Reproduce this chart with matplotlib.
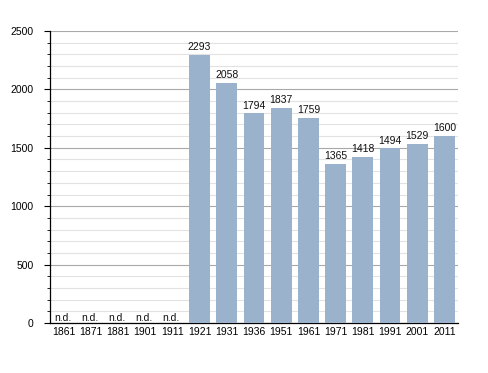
import matplotlib
matplotlib.use("Agg")
import matplotlib.pyplot as plt
from matplotlib.ticker import MultipleLocator

years = ["1861", "1871", "1881", "1901", "1911", "1921", "1931", "1936",
         "1951", "1961", "1971", "1981", "1991", "2001", "2011"]
population = [None, None, None, None, None, 2293, 2058, 1794,
              1837, 1759, 1365, 1418, 1494, 1529, 1600]
yticks = [0, 500, 1000, 1500, 2000, 2500]

plt.rcParams['font.family'] = ['Liberation Sans', 'DejaVu Sans']
fig = plt.figure(figsize=(4.88, 3.73), dpi=100)
ax = fig.add_axes([0.1025, 0.134, 0.836, 0.783])

x = list(range(len(years)))
vals = [v if v is not None else 0 for v in population]
bar_color = '#9bb2cc'
ax.bar(x, vals, width=0.77, color=bar_color, zorder=3)

for i, v in enumerate(population):
    if v is None:
        ax.text(i - 0.36, 0, "n.d.", ha='left', va='bottom', fontsize=7.5,
                color='#111111', zorder=4)
    else:
        ax.text(i, v + 25, str(v), ha='center', va='bottom', fontsize=7.5,
                color='#111111', zorder=4)

ax.set_xlim(-0.5, len(years) - 0.5)
ax.set_ylim(0, 2500)
ax.set_xticks(x)
ax.set_xticklabels(years, fontsize=7.5)
ax.set_yticks(yticks)
ax.set_yticklabels([str(t) for t in yticks], fontsize=7.5)
ax.yaxis.set_minor_locator(MultipleLocator(100))

ax.grid(axis='y', which='major', color='#a8a8a8', linewidth=0.8, zorder=0)
ax.grid(axis='y', which='minor', color='#e2e2e2', linewidth=0.8, zorder=0)
ax.tick_params(axis='x', length=0, pad=3)
ax.tick_params(axis='y', which='major', length=4, width=0.8, pad=8)
ax.tick_params(axis='y', which='minor', length=2, width=0.6)

for s in ['top', 'right']:
    ax.spines[s].set_visible(False)
ax.spines['left'].set_linewidth(0.9)
ax.spines['bottom'].set_linewidth(0.9)

fig.savefig("out.png", dpi=100)
